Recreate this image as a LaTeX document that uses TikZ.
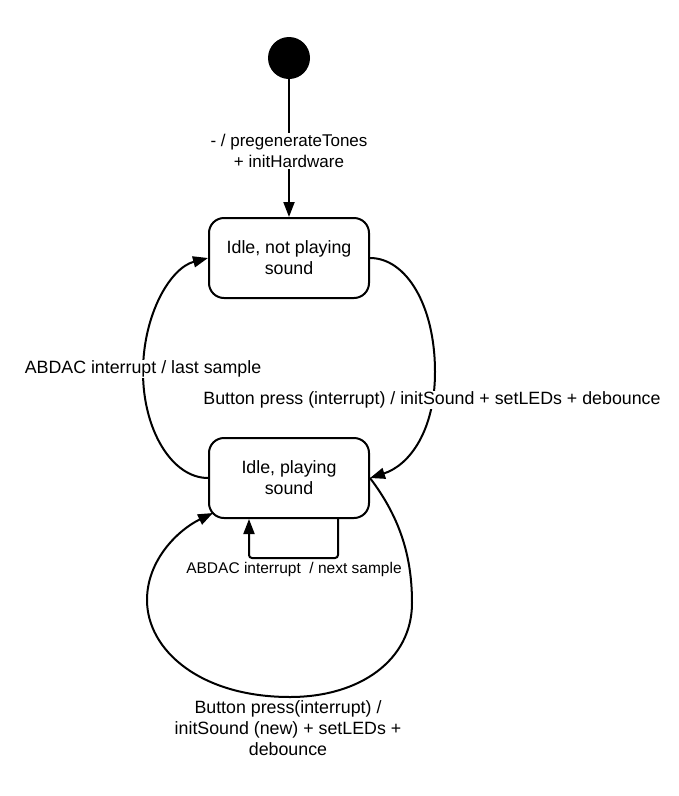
\documentclass[tikz,border=0pt]{standalone}
\usepackage{fontspec}
\setmainfont{Liberation Sans}
\usetikzlibrary{arrows.meta,calc}
\begin{document}
\begin{tikzpicture}[x=1pt,y=-1pt,
  state/.style={draw,line width=2pt,rounded corners=15pt,minimum width=160pt,minimum height=80pt,align=center,font=\fontsize{17.8}{21}\selectfont,inner sep=0pt},
  lbl/.style={fill=white,align=center,inner sep=1pt,font=\fontsize{17.8}{21}\selectfont},
  smalllbl/.style={fill=white,align=center,inner sep=1pt,font=\fontsize{15.5}{21}\selectfont},
  plainlbl/.style={align=center,inner sep=1pt,font=\fontsize{17.8}{21}\selectfont},
  tr/.style={line width=2pt,-{Triangle[length=15pt,width=11pt]}}]
\useasboundingbox (0,0) rectangle (679,796);
\node[circle,fill=black,minimum size=42pt,inner sep=0pt] (init) at (289,58) {};
\node[state] (b1) at (289,258) {Idle, not playing\\sound};
\node[state] (b2) at (289,478) {Idle, playing\\sound};
\draw[tr] (init) -- (b1);
\node[lbl,font=\fontsize{17}{21}\selectfont] (l0) at (289,151) {- / pregenerateTones\\+ initHardware};
% right curve
\draw[tr] (b1.east) .. controls (406,258) and (435,305) .. (435,372) .. controls (435,430) and (410,465) .. (b2.east);
% left curve
\draw[tr] (b2.west) .. controls (172,478) and (143,430) .. (143,372) .. controls (143,315) and (170,268) .. (b1.west);
% big loop
\coordinate (bl) at (213,513);
\draw[tr] (b2.east) .. controls (402,520) and (412,560) .. (412,603)
  .. controls (412,660) and (360,697) .. (290,697)
  .. controls (200,697) and (147,650) .. (147,600)
  .. controls (147,560) and (178,530) .. (bl);
% self loop
\coordinate (sr) at (338,558);
\coordinate (sl) at (249,558);
\draw[tr,rounded corners=3pt] (b2.south -| sr) -- (sr) -- (sl) -- (b2.south -| sl);
% labels
\node[lbl] (l1) at (143,369) {ABDAC interrupt / last sample};
\node[lbl] (l2) at (432,400) {Button press (interrupt) / initSound + setLEDs + debounce};
\node[smalllbl] (l3) at (294,569) {ABDAC interrupt\ \ / next sample};
\node[plainlbl] (l4) at (288,728) {Button press(interrupt) /\\initSound (new) + setLEDs +\\debounce};
\end{tikzpicture}
\end{document}
